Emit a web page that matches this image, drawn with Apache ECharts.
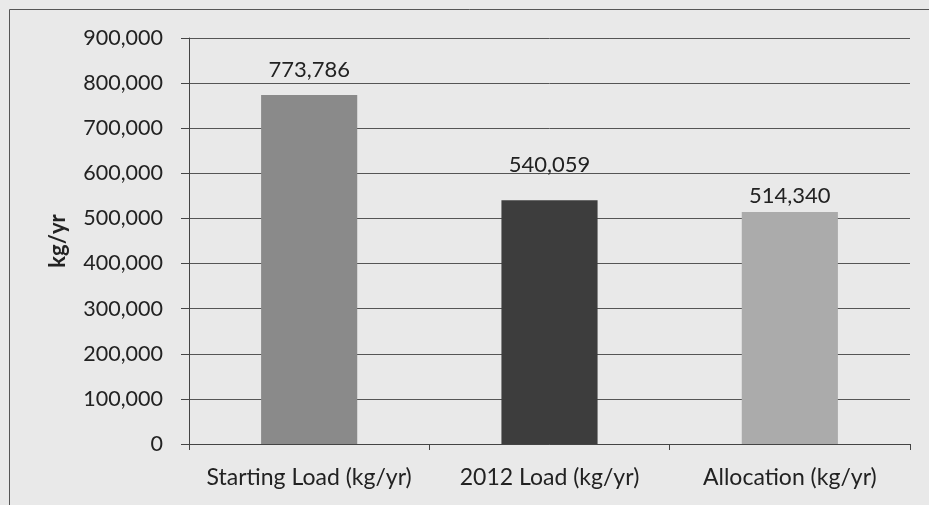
<!DOCTYPE html>
<html><head><meta charset="utf-8">
<script src="https://cdn.jsdelivr.net/npm/echarts@6/dist/echarts.min.js"></script>
<style>html,body{margin:0;padding:0;background:#e9e9e9}#c{width:929px;height:505px}</style>
</head><body><div id="c"></div>
<script>
const categories = ["Starting Load (kg/yr)", "2012 Load (kg/yr)", "Allocation (kg/yr)"];
const values = [773786, 540059, 514340];
const barColors = ["#8a8a8a", "#3d3d3d", "#ababab"];
const yTicks = [0, 100000, 200000, 300000, 400000, 500000, 600000, 700000, 800000, 900000];

const labelGaps = [14, 24, 5];
const chart = echarts.init(document.getElementById('c'), null, {renderer: 'canvas'});
const fmt = v => v.toLocaleString('en-US');
chart.setOption({
  backgroundColor: '#e9e9e9',
  animation: false,
  textStyle: {fontFamily: 'Lato'},
  graphic: [{type: 'rect', shape: {x: 9.5, y: 9.5, width: 940, height: 520},
    style: {fill: 'none', stroke: '#555', lineWidth: 1}, silent: true}],
  grid: {left: 189, right: 19, top: 38, bottom: 61},
  xAxis: {
    type: 'category', data: categories,
    axisLine: {lineStyle: {color: '#444', width: 1}},
    axisTick: {show: true, length: 6, lineStyle: {color: '#444'}},
    axisLabel: {color: '#222', fontSize: 23, margin: 22, fontFamily: 'Lato',
      interval: 0, hideOverlap: false}
  },
  yAxis: {
    type: 'value', min: yTicks[0], max: yTicks[yTicks.length - 1], interval: 100000,
    name: 'kg/yr', nameLocation: 'middle', nameGap: 120, nameRotate: 90,
    nameTextStyle: {color: '#222', fontSize: 22, fontWeight: 'bold', fontFamily: 'Lato'},
    axisLine: {show: true, lineStyle: {color: '#444', width: 1}},
    axisTick: {show: true, length: 8, lineStyle: {color: '#444'}},
    splitLine: {lineStyle: {color: '#555', width: 1}},
    axisLabel: {color: '#222', fontSize: 21.5, margin: 26, fontFamily: 'Lato', formatter: fmt}
  },
  series: [{
    type: 'bar', barWidth: '40%',
    data: values.map((v, i) => ({value: v, itemStyle: {color: barColors[i]},
      label: {distance: labelGaps[i]}})),
    label: {show: true, position: 'top', distance: 14, color: '#222', fontSize: 22,
      fontFamily: 'Lato', formatter: p => fmt(p.value)}
  }]
});
</script></body></html>
